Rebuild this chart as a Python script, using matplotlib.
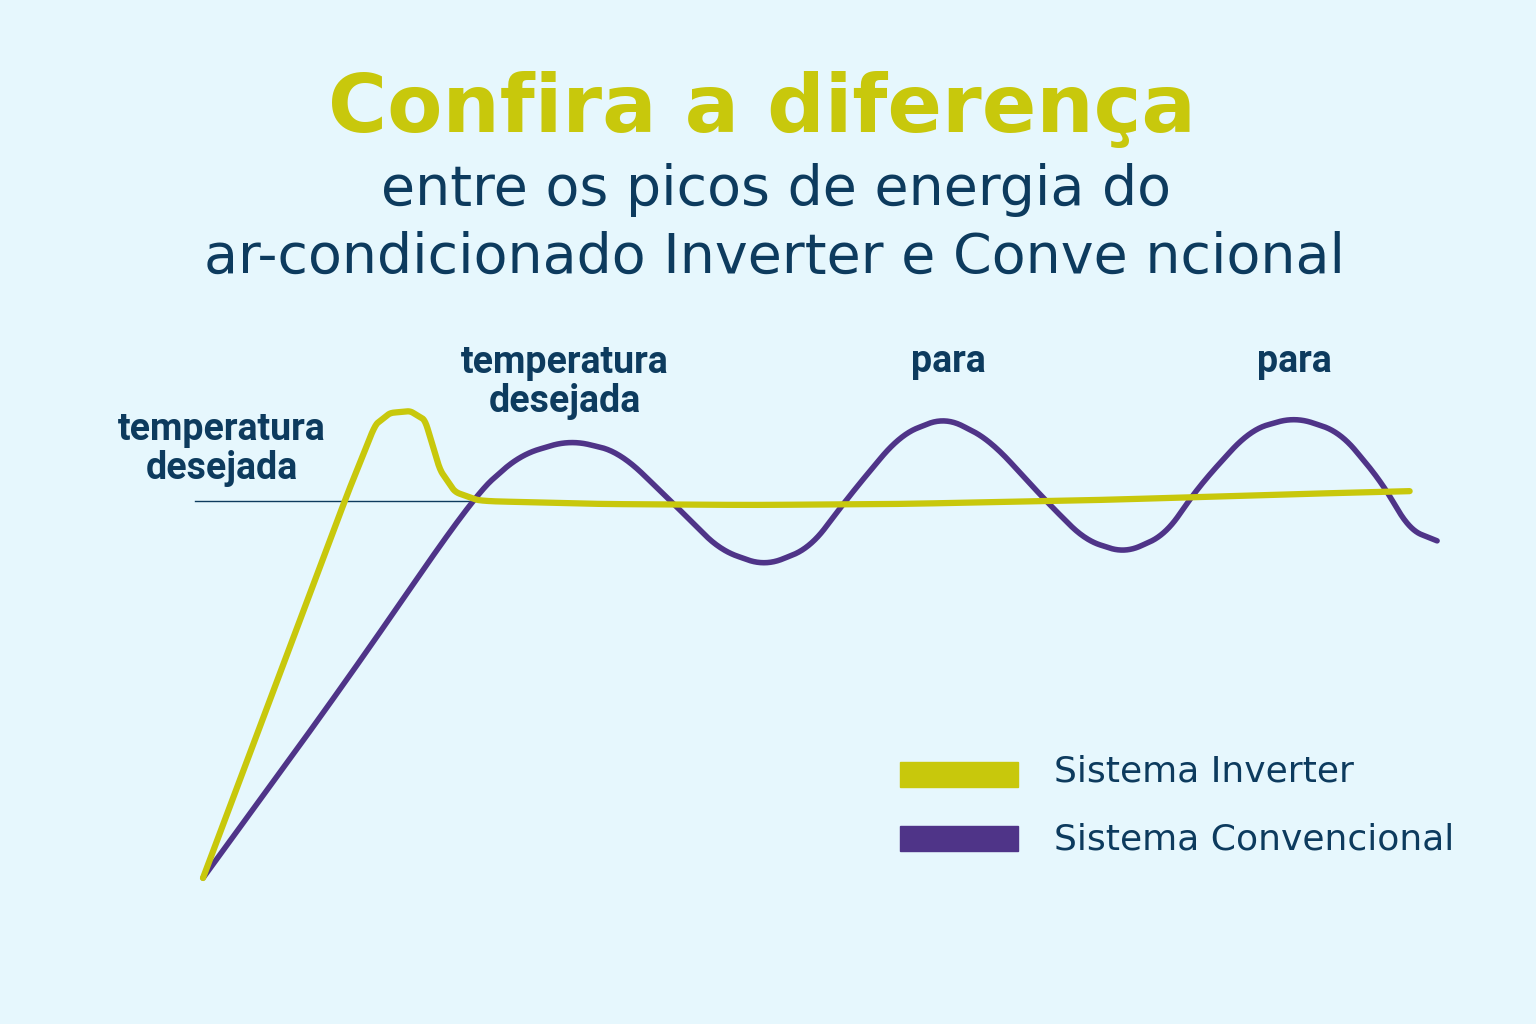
import matplotlib
matplotlib.use("Agg")
import matplotlib.pyplot as plt
import numpy as np

inv_x = [203, 345, 375, 390, 410, 425, 440, 455, 480, 600, 750, 900, 1100, 1300, 1415]
inv_y = [878, 500, 425, 413, 411, 420, 470, 492, 501, 504, 505, 504, 500, 494, 491]
conv_x = [203, 340, 475, 520, 570, 620, 680, 720, 765, 810, 850, 900, 945, 990, 1045,
          1085, 1125, 1165, 1200, 1250, 1295, 1340, 1380, 1410, 1440]
conv_y = [878, 690, 495, 455, 440, 452, 510, 550, 566, 548, 495, 435, 417, 440, 500,
          540, 553, 535, 485, 430, 417, 432, 480, 530, 542]
setpoint = 501

YEL = "#c8c80c"
PUR = "#4f3488"
NAVY = "#0d3b5e"
BG = "#e6f7fd"

fig = plt.figure(figsize=(15.36, 10.24), dpi=100, facecolor=BG)
ax = fig.add_axes([0, 0, 1, 1], facecolor=BG)
ax.set_xlim(0, 1536); ax.set_ylim(1024, 0); ax.axis("off")

def smooth(x, y, n=40, k=31):
    xs, ys = [], []
    for i in range(len(x) - 1):
        t = np.linspace(0, 1, n, endpoint=False)
        xs.extend(x[i] + (x[i+1]-x[i]) * t)
        ys.extend(y[i] + (y[i+1]-y[i]) * t)
    xs.append(x[-1]); ys.append(y[-1])
    xs, ys = np.array(xs), np.array(ys)
    w = np.ones(k) / k
    xp = np.pad(xs, k//2, mode="edge"); yp = np.pad(ys, k//2, mode="edge")
    xs2 = np.convolve(xp, w, "valid"); ys2 = np.convolve(yp, w, "valid")
    xs2[0], ys2[0] = xs[0], ys[0]
    return xs2, ys2

ax.plot([195, 475], [setpoint, setpoint], color=NAVY, lw=1)
ax.plot(*smooth(conv_x, conv_y), color=PUR, lw=4, solid_capstyle="round", zorder=3)
ax.plot(*smooth(inv_x, inv_y, k=15), color=YEL, lw=4.5, solid_capstyle="round", zorder=4)

ax.text(762, 110, "Confira a diferença", ha="center", va="center", color=YEL,
        fontsize=58, fontweight="bold", family="DejaVu Sans")
ax.text(776, 190, "entre os picos de energia do", ha="center", va="center", color=NAVY,
        fontsize=40, family="DejaVu Sans")
ax.text(774, 258, "ar-condicionado Inverter e Conve ncional", ha="center", va="center",
        color=NAVY, fontsize=40, family="DejaVu Sans")

lab = dict(ha="center", va="center", color=NAVY, fontsize=27, fontweight="bold",
           family="Roboto", linespacing=1.05)
ax.text(222, 449, "temperatura\ndesejada", **lab)
ax.text(565, 382, "temperatura\ndesejada", **lab)
ax.text(948, 362, "para", **lab)
ax.text(1294, 362, "para", **lab)

ax.add_patch(plt.Rectangle((900, 762), 118, 25, color=YEL))
ax.add_patch(plt.Rectangle((900, 826), 118, 25, color=PUR))
ax.text(1054, 772, "Sistema Inverter", va="center", color=NAVY, fontsize=26, family="DejaVu Sans")
ax.text(1054, 840, "Sistema Convencional", va="center", color=NAVY, fontsize=26, family="DejaVu Sans")

fig.savefig("out.png", dpi=100, facecolor=BG)
